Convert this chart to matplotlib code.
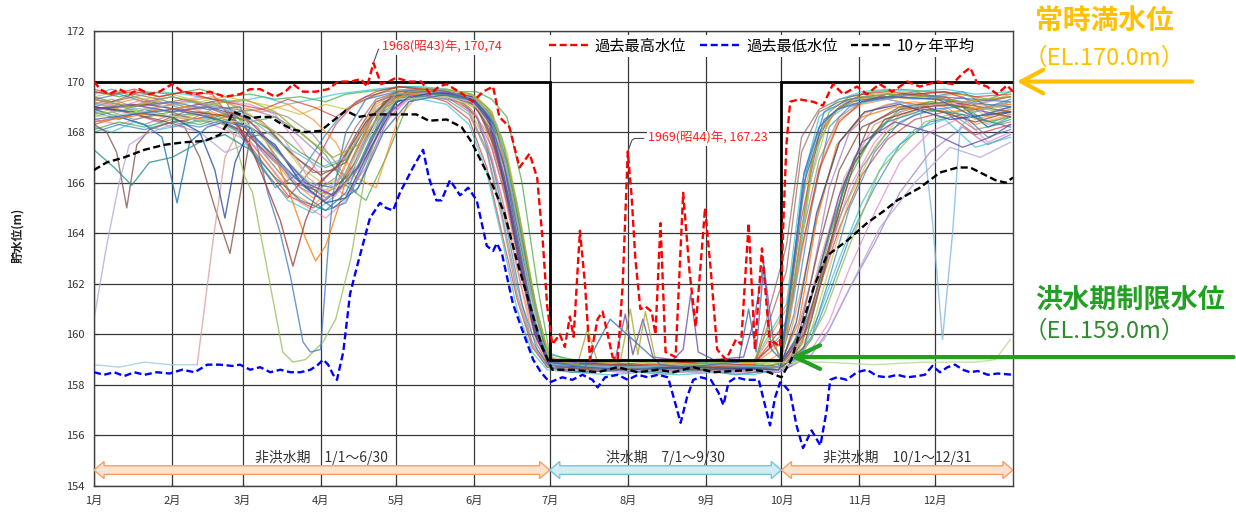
import matplotlib
matplotlib.use('Agg')
import matplotlib.pyplot as plt
from matplotlib.patches import Polygon
from matplotlib.lines import Line2D

plt.rcParams['font.family'] = ['Noto Sans CJK JP', 'DejaVu Sans']

# ---------------- data ----------------
month_days = [0, 31, 59, 90, 120, 151, 181, 212, 243, 273, 304, 334]
month_labels = ['1月', '2月', '3月', '4月', '5月', '6月', '7月', '8月', '9月', '10月', '11月', '12月']
y_ticks = [154, 156, 158, 160, 162, 164, 166, 168, 170, 172]

# operating rule (常時満水位 / 洪水期制限水位)
rule_days = [0, 181, 181, 273, 273, 365]
rule_levels = [170.0, 170.0, 159.0, 159.0, 170.0, 170.0]

# periods
period_starts = [0, 181, 273]
period_ends = [181, 273, 365]
period_labels = ['非洪水期　1/1～6/30', '洪水期　7/1～9/30', '非洪水期　10/1～12/31']

# 過去最高水位
max_days = [0, 2.4, 6, 10, 14, 18, 22, 26, 31, 35, 40, 46, 52, 58, 62, 66, 72, 76, 79, 83, 88, 93, 97, 102, 106,
            108.5, 111, 114, 117, 120, 125, 130, 133.5, 137, 140, 146.5, 150.5, 154.5, 158.5, 161, 165, 169, 173,
            176, 178.3, 180, 182, 185, 187, 189, 190.5, 193, 195, 197, 200, 202, 204, 206, 208, 210, 212, 213.5,
            215, 217, 219, 221.5, 223, 225, 227, 231, 234, 236.5, 239, 242.7, 245, 247.5, 251, 255, 257, 260,
            262.5, 265.3, 268.5, 270, 272.5, 273.7, 275, 276.5, 280, 285.6, 289.5, 293.5, 297.5, 303, 307, 312,
            317, 323, 328, 335, 341, 344.7, 348, 350.7, 354.7, 358.7, 362.6, 365]
max_levels = [170.0, 169.7, 169.5, 169.7, 169.5, 169.7, 169.5, 169.6, 169.9, 169.6, 169.5, 169.6, 169.4, 169.5,
              169.7, 169.7, 169.4, 169.6, 169.9, 169.6, 169.6, 169.7, 170.0, 170.0, 170.1, 169.8, 170.74, 169.9,
              170.0, 170.15, 170.0, 170.0, 169.5, 169.8, 169.9, 169.5, 169.2, 169.6, 169.8, 168.6, 168.2, 166.6,
              167.15, 166.2, 163.6, 161.1, 159.6, 160.0, 159.5, 160.7, 159.9, 164.1, 162.0, 159.0, 160.6, 160.9,
              160.0, 159.1, 159.0, 162.0, 167.23, 165.5, 163.0, 161.0, 161.1, 160.9, 160.0, 164.4, 159.3, 159.1,
              165.6, 162.5, 160.3, 165.0, 162.5, 159.4, 159.0, 159.8, 159.6, 164.4, 159.4, 163.4, 159.5, 159.7,
              159.5, 164.2, 167.5, 169.2, 169.3, 169.2, 169.05, 169.9, 169.5, 169.8, 169.5, 169.9, 169.6, 170.0,
              169.8, 170.0, 169.9, 170.3, 170.55, 169.95, 169.8, 169.5, 169.85, 169.6]

# 過去最低水位
min_days = [0, 4, 8, 12, 16, 20, 25, 30, 35, 40, 45, 50, 55, 58, 62, 66, 70, 74, 78, 82, 86, 89, 91, 93, 95, 96.5,
            99, 101.7, 104.5, 109.6, 113.6, 116, 118.8, 121.5, 126.7, 130.7, 133, 136, 138, 141.4, 145.4, 148.6,
            152, 156, 158.5, 160, 162, 166.4, 170, 174.4, 177.5, 181, 186, 190, 194, 198, 200, 203, 208, 212, 216,
            220, 224, 228, 230.5, 233, 235.5, 238, 241, 245, 248, 250, 252, 255, 259, 264, 266, 268.5, 270.5,
            272.5, 274, 276.5, 279, 281.6, 285, 288.5, 291, 292.4, 295, 299, 303, 307, 311, 315, 319, 323, 327,
            330, 333, 336, 339, 342, 345, 348, 351, 355, 359, 365]
min_levels = [158.5, 158.4, 158.5, 158.35, 158.5, 158.4, 158.5, 158.45, 158.6, 158.5, 158.8, 158.8, 158.75,
              158.8, 158.6, 158.7, 158.5, 158.6, 158.5, 158.5, 158.6, 158.8, 159.0, 158.8, 158.4, 158.2, 159.3,
              161.6, 162.7, 164.6, 165.2, 165.0, 164.9, 165.6, 166.6, 167.3, 166.2, 165.3, 165.3, 166.1, 165.5,
              165.8, 165.3, 163.5, 163.3, 163.6, 163.2, 161.2, 160.2, 159.0, 158.5, 158.1, 158.3, 158.2, 158.4,
              158.2, 157.9, 158.3, 158.4, 158.2, 158.4, 158.3, 158.4, 158.3, 157.4, 156.5, 157.5, 158.2, 158.3,
              158.2, 157.7, 157.2, 158.1, 158.3, 158.2, 158.2, 157.4, 156.4, 157.5, 158.1, 158.0, 157.7, 156.4,
              155.5, 156.2, 155.6, 157.0, 158.2, 158.3, 158.2, 158.5, 158.6, 158.35, 158.3, 158.4, 158.3, 158.35,
              158.4, 158.75, 158.5, 158.7, 158.8, 158.6, 158.5, 158.55, 158.4, 158.45, 158.4]

# 10ヶ年平均
avg_days = [0, 5, 12, 20, 28, 36, 44, 50, 52.8, 55.3, 58, 62, 66, 70, 74, 79, 84, 90, 95, 100, 105, 111, 121, 128,
            133, 140, 146, 150, 153, 157, 160, 163, 168, 173, 178, 182, 190, 200, 208, 216, 224, 230, 238, 246,
            254, 262, 268, 273, 277, 281, 286, 291, 299, 307, 314, 319, 328, 336, 343, 348, 352, 358, 362, 365]
avg_levels = [166.5, 166.8, 167.0, 167.3, 167.5, 167.6, 167.65, 167.9, 168.3, 168.8, 168.7, 168.55, 168.6, 168.6,
              168.35, 168.1, 168.0, 168.05, 168.45, 168.85, 168.6, 168.7, 168.7, 168.7, 168.45, 168.5, 168.2,
              167.6, 167.0, 166.2, 165.5, 164.8, 162.9, 161.2, 159.5, 158.6, 158.6, 158.5, 158.7, 158.5, 158.6,
              158.5, 158.7, 158.5, 158.55, 158.6, 158.5, 158.3, 159.0, 160.3, 161.9, 163.1, 163.7, 164.4, 164.9,
              165.3, 165.8, 166.4, 166.6, 166.6, 166.4, 166.1, 166.0, 166.2]

# yearly records
grid_a = [0, 10, 20, 31, 42, 52, 62, 72, 82, 92, 100, 108, 116, 125, 135, 145, 152, 158, 164, 170, 176, 181,
          195, 210, 225, 240, 255, 272, 278, 285, 292, 300, 310, 320, 332, 345, 355, 364]
grid_b = [0, 7, 16, 26, 36, 47, 57, 67, 77, 87, 96, 104, 112, 121, 130, 140, 149, 156, 162, 168, 174, 180,
          190, 205, 218, 232, 248, 262, 275, 281, 288, 296, 305, 315, 326, 338, 350, 364]

b01 = [169.3, 169.5, 169.2, 169.4, 169.1, 169.3, 167.4, 165.8, 166.4, 167.9, 168.9, 169.4, 169.6, 169.7, 169.6, 169.5, 169.2, 168.4, 166.5, 163.2, 160.2, 158.9, 158.7, 158.8, 158.6, 158.8, 158.7, 158.8, 160.8, 165.0, 168.2, 169.0, 169.3, 169.5, 169.4, 169.6, 169.0, 169.3]
b02 = [168.8, 169.0, 168.7, 168.9, 168.6, 168.8, 168.4, 167.5, 166.2, 165.4, 165.8, 167.6, 169.0, 169.5, 169.6, 169.4, 168.9, 167.6, 165.4, 162.6, 160.0, 158.8, 158.6, 158.7, 158.6, 158.5, 158.7, 158.6, 159.4, 161.8, 165.0, 167.6, 168.7, 169.1, 169.2, 169.0, 168.3, 168.7]
b03 = [169.6, 169.4, 169.6, 169.5, 169.7, 169.4, 169.5, 169.3, 169.4, 169.2, 169.5, 169.6, 169.7, 169.8, 169.7, 169.6, 169.6, 169.3, 168.6, 166.0, 162.0, 159.2, 158.9, 159.0, 158.8, 158.9, 158.8, 158.9, 162.0, 166.8, 168.8, 169.4, 169.6, 169.7, 169.6, 169.5, 169.3, 169.6]
b04 = [168.3, 168.5, 168.7, 168.4, 168.8, 168.6, 168.1, 166.8, 165.5, 165.0, 165.6, 167.2, 168.8, 169.4, 169.5, 169.2, 168.5, 166.6, 164.0, 161.4, 159.5, 158.7, 158.5, 158.6, 158.5, 158.7, 158.5, 158.6, 158.9, 159.6, 161.8, 164.2, 166.3, 167.7, 168.5, 168.8, 167.9, 168.3]
b05 = [169.0, 168.8, 169.2, 168.9, 169.1, 168.7, 168.9, 168.6, 167.8, 166.9, 166.2, 167.0, 168.6, 169.4, 169.6, 169.5, 169.1, 168.2, 166.4, 163.6, 160.6, 159.0, 158.7, 158.8, 158.7, 158.6, 158.8, 158.7, 159.6, 162.2, 165.8, 168.0, 168.9, 169.2, 169.0, 169.4, 168.7, 169.0]
b06 = [169.4, 169.2, 169.5, 169.3, 169.0, 169.2, 168.6, 167.2, 166.0, 165.8, 166.6, 168.2, 169.3, 169.6, 169.7, 169.6, 169.4, 168.9, 167.5, 164.5, 161.2, 159.1, 158.8, 158.9, 158.7, 158.9, 158.8, 158.7, 163.5, 167.8, 168.9, 169.3, 169.5, 169.4, 169.6, 169.3, 169.1, 169.4]
b07 = [168.5, 168.3, 168.6, 168.2, 168.5, 168.1, 167.6, 166.4, 165.2, 164.6, 165.3, 166.9, 168.5, 169.3, 169.4, 169.3, 168.7, 167.0, 164.6, 161.8, 159.6, 158.7, 158.5, 158.6, 158.4, 158.6, 158.5, 158.5, 158.8, 159.4, 160.5, 162.6, 164.8, 166.8, 168.0, 168.6, 167.6, 168.0]
b08 = [169.1, 169.3, 169.0, 169.2, 168.9, 169.1, 168.8, 168.9, 168.6, 167.9, 166.8, 165.6, 167.5, 169.4, 169.6, 169.4, 168.8, 167.3, 164.8, 161.9, 159.7, 158.8, 158.7, 158.6, 158.8, 158.6, 158.7, 158.8, 160.2, 163.8, 166.9, 168.6, 169.2, 169.4, 169.5, 169.3, 168.9, 169.2]
b09 = [168.7, 169.0, 168.8, 169.1, 168.9, 169.2, 168.7, 167.9, 166.6, 165.9, 166.3, 167.8, 169.1, 169.6, 169.5, 169.3, 168.9, 167.9, 165.9, 163.0, 160.3, 158.9, 158.6, 158.7, 158.5, 158.7, 158.6, 158.7, 159.1, 160.2, 162.6, 165.4, 167.4, 168.6, 169.1, 169.2, 168.6, 168.9]
b10 = [169.5, 169.7, 169.4, 169.6, 169.5, 169.3, 169.2, 169.4, 169.1, 169.3, 169.5, 169.6, 169.7, 169.8, 169.8, 169.7, 169.5, 169.0, 167.8, 165.2, 161.8, 159.3, 158.9, 158.9, 159.0, 158.8, 158.9, 158.9, 161.2, 165.9, 168.6, 169.3, 169.6, 169.7, 169.6, 169.7, 169.5, 169.6]
b11 = [168.0, 168.3, 168.1, 168.4, 168.2, 168.5, 168.2, 167.4, 166.1, 165.4, 165.9, 167.6, 169.0, 169.5, 169.5, 169.3, 168.6, 166.8, 164.2, 161.2, 159.4, 158.7, 158.5, 158.6, 158.5, 158.6, 158.4, 158.6, 158.9, 159.8, 161.6, 163.8, 165.8, 167.5, 168.4, 168.7, 167.8, 168.1]
b12 = [169.2, 168.9, 169.1, 168.8, 169.0, 168.7, 168.3, 167.0, 165.7, 165.1, 165.9, 167.7, 169.1, 169.6, 169.5, 169.4, 169.0, 168.0, 166.0, 163.1, 160.4, 158.9, 158.7, 158.8, 158.6, 158.8, 158.7, 158.8, 159.8, 163.2, 166.6, 168.5, 169.1, 169.3, 169.1, 169.3, 168.5, 168.9]
b13 = [168.9, 169.1, 168.6, 168.8, 168.4, 168.7, 168.4, 168.6, 168.0, 167.1, 165.9, 165.3, 167.0, 169.2, 169.6, 169.5, 169.3, 168.6, 166.9, 163.9, 160.8, 159.0, 158.8, 158.7, 158.8, 158.7, 158.9, 158.7, 159.3, 161.0, 163.8, 166.4, 168.0, 168.9, 169.2, 169.0, 168.2, 168.6]
b14 = [169.6, 169.5, 169.7, 169.4, 169.6, 169.5, 168.2, 166.5, 165.4, 166.6, 168.3, 169.2, 169.6, 169.8, 169.7, 169.6, 169.3, 168.3, 166.2, 163.4, 160.5, 159.0, 158.8, 158.8, 158.7, 158.9, 158.8, 158.8, 160.5, 164.6, 167.9, 169.0, 169.5, 169.6, 169.5, 169.6, 169.4, 169.5]
b15 = [168.4, 168.6, 168.3, 168.7, 168.5, 168.3, 167.8, 166.9, 165.8, 165.3, 166.0, 167.8, 169.1, 169.5, 169.4, 169.2, 168.6, 167.4, 165.2, 162.3, 159.8, 158.8, 158.6, 158.5, 158.6, 158.5, 158.6, 158.5, 158.8, 159.2, 160.2, 161.8, 163.6, 165.6, 167.2, 168.2, 167.5, 167.9]
b16 = [169.0, 169.2, 169.4, 169.1, 169.3, 169.0, 168.9, 168.4, 167.3, 166.4, 166.5, 167.9, 169.2, 169.6, 169.6, 169.5, 169.2, 168.5, 166.8, 163.8, 160.9, 159.1, 158.8, 158.7, 158.9, 158.7, 158.8, 158.7, 162.5, 167.2, 168.8, 169.2, 169.4, 169.3, 169.5, 169.4, 168.8, 169.2]
b17 = [169.2, 169.0, 169.3, 169.1, 169.4, 169.2, 169.1, 168.7, 167.4, 166.0, 165.5, 166.6, 168.4, 169.4, 169.5, 169.4, 169.0, 167.8, 165.6, 162.8, 160.1, 158.9, 158.7, 158.6, 158.7, 158.6, 158.7, 158.6, 159.2, 160.8, 163.2, 165.8, 167.6, 168.7, 169.0, 169.1, 168.3, 168.7]
b18 = [168.6, 168.8, 168.5, 168.7, 168.4, 168.9, 168.6, 167.8, 166.4, 165.6, 166.2, 167.9, 169.2, 169.5, 169.4, 169.3, 168.7, 167.2, 164.6, 161.6, 159.6, 158.7, 158.5, 158.6, 158.6, 158.5, 158.6, 158.5, 159.0, 160.0, 162.0, 164.6, 166.6, 168.0, 168.7, 168.9, 168.1, 168.4]
b19 = [169.4, 169.6, 169.3, 169.5, 169.2, 169.4, 169.2, 169.0, 168.7, 169.1, 168.9, 169.3, 169.6, 169.7, 169.7, 169.6, 169.4, 168.8, 167.2, 164.2, 160.9, 159.1, 158.9, 158.8, 158.9, 158.8, 158.9, 158.8, 161.8, 166.2, 168.6, 169.3, 169.5, 169.6, 169.4, 169.5, 169.2, 169.5]
b20 = [168.2, 168.0, 168.4, 168.1, 168.3, 168.6, 168.0, 166.6, 165.3, 164.8, 165.5, 167.3, 168.9, 169.4, 169.3, 169.1, 168.3, 166.4, 163.8, 161.0, 159.3, 158.6, 158.5, 158.4, 158.5, 158.4, 158.5, 158.4, 158.7, 159.3, 160.8, 163.0, 165.2, 167.0, 168.1, 168.5, 167.4, 167.8]
b21 = [168.8, 168.5, 168.9, 168.6, 168.8, 168.4, 167.9, 167.0, 165.6, 164.9, 165.2, 166.8, 168.7, 169.4, 169.5, 169.4, 169.0, 167.8, 165.6, 162.6, 160.0, 158.8, 158.6, 158.7, 158.6, 158.7, 158.6, 158.7, 159.0, 159.9, 162.2, 165.0, 167.2, 168.4, 168.9, 169.0, 168.2, 168.5]
b22 = [169.3, 169.1, 169.3, 169.0, 169.2, 169.4, 169.0, 168.8, 169.1, 168.5, 167.6, 166.2, 165.8, 168.6, 169.6, 169.5, 169.3, 168.7, 167.0, 164.0, 160.7, 159.0, 158.8, 158.7, 158.8, 158.8, 158.7, 158.8, 161.0, 165.2, 168.0, 169.0, 169.3, 169.4, 169.3, 169.4, 168.9, 169.1]
b23 = [168.1, 168.4, 168.2, 168.5, 168.3, 168.6, 168.5, 168.0, 167.2, 166.6, 166.9, 168.2, 169.2, 169.6, 169.5, 169.4, 169.1, 168.3, 166.3, 163.3, 160.4, 158.9, 158.7, 158.6, 158.7, 158.6, 158.7, 158.6, 159.1, 160.6, 163.4, 166.2, 168.0, 168.8, 169.1, 169.0, 168.4, 168.6]
b24 = [169.7, 169.5, 169.6, 169.4, 169.6, 169.3, 169.1, 168.9, 169.3, 169.0, 168.6, 169.1, 169.5, 169.8, 169.7, 169.6, 169.4, 168.6, 166.8, 163.8, 160.6, 159.0, 158.8, 158.9, 158.8, 158.9, 158.8, 158.9, 160.0, 163.4, 166.5, 168.4, 169.2, 169.5, 169.5, 169.6, 169.2, 169.4]

s01_days = [0, 5, 9, 13, 17, 22, 31, 45, 60, 72, 85, 95, 105, 115, 125, 140, 152, 160, 167, 173, 179, 184, 210, 240, 272, 280, 288, 296, 305, 320, 340, 364]
s01_levels = [168.3, 168.0, 167.2, 165.0, 167.5, 168.1, 168.4, 168.6, 168.0, 166.8, 165.8, 165.5, 167.0, 169.2, 169.6, 169.5, 169.0, 167.2, 164.2, 161.5, 159.5, 158.7, 158.6, 158.7, 158.7, 160.0, 163.5, 166.5, 168.2, 168.9, 169.1, 168.6]
s02_days = [0, 10, 20, 27, 33, 38, 45, 55, 65, 75, 85, 95, 105, 115, 125, 140, 150, 157, 164, 170, 176, 181, 210, 240, 272, 276, 282, 290, 300, 315, 335, 364]
s02_levels = [168.9, 168.6, 168.3, 167.8, 165.2, 167.6, 168.2, 168.5, 168.0, 167.0, 166.0, 165.8, 166.6, 168.8, 169.5, 169.6, 169.4, 168.6, 166.2, 163.0, 160.0, 158.8, 158.7, 158.6, 158.7, 161.5, 166.0, 168.5, 169.2, 169.4, 169.3, 169.0]
s03_days = [0, 12, 25, 36, 42, 48, 54, 58, 62, 70, 80, 90, 100, 110, 120, 135, 150, 157, 164, 170, 176, 181, 210, 240, 272, 282, 290, 298, 308, 320, 340, 364]
s03_levels = [169.0, 168.8, 168.5, 168.2, 167.0, 165.0, 163.2, 165.5, 167.8, 168.0, 167.0, 166.3, 166.8, 168.6, 169.5, 169.6, 169.3, 168.2, 165.5, 162.5, 159.8, 158.8, 158.6, 158.8, 158.6, 159.5, 162.5, 166.0, 168.3, 169.0, 169.2, 168.8]
s04_days = [0, 10, 20, 30, 41]
s04_levels = [158.8, 158.7, 158.9, 158.8, 158.8]
s05_days = [41, 47, 52, 58, 65, 75, 85, 95, 105, 115, 125, 140, 152, 160, 167, 173, 179, 184, 210, 240, 272, 280, 288, 298, 310, 325, 345, 364]
s05_levels = [158.8, 163.5, 167.0, 168.2, 168.5, 167.8, 166.2, 165.4, 166.5, 168.6, 169.4, 169.5, 169.2, 168.0, 165.2, 162.0, 159.6, 158.8, 158.7, 158.6, 158.7, 159.6, 162.8, 166.2, 168.3, 169.0, 169.2, 168.9]
s06_days = [0, 15, 31, 45, 55, 60, 63, 68, 75, 79, 84, 91, 96, 102, 108, 114, 122, 135, 150, 158, 165, 171, 177, 182, 210, 240, 272, 280, 290, 300, 312, 330, 350, 364]
s06_levels = [168.7, 168.9, 168.6, 168.8, 168.0, 166.2, 165.6, 163.0, 159.3, 158.9, 159.0, 159.7, 160.6, 163.0, 166.5, 168.5, 169.4, 169.6, 169.5, 168.8, 166.5, 163.5, 160.3, 158.8, 158.6, 158.7, 158.6, 159.0, 160.8, 163.5, 166.5, 168.4, 169.0, 168.7]
s07_days = [0, 15, 31, 45, 58, 64, 69, 74, 78, 83, 86, 90, 93, 95, 100, 108, 120, 135, 150, 158, 165, 171, 177, 182, 210, 240, 272, 277, 283, 290, 300, 315, 335, 364]
s07_levels = [169.3, 169.0, 169.2, 168.9, 169.0, 167.8, 165.6, 164.0, 162.3, 159.7, 159.3, 159.4, 163.4, 165.6, 168.0, 169.3, 169.6, 169.7, 169.4, 168.5, 165.8, 162.5, 159.8, 158.7, 158.8, 158.6, 158.7, 162.0, 166.5, 168.8, 169.3, 169.5, 169.4, 169.2]
s08_days = [0, 20, 40, 55, 65, 72, 78, 84, 88, 92, 97, 102, 110, 120, 135, 150, 158, 164, 170, 176, 181, 210, 240, 272, 280, 287, 295, 305, 318, 340, 364]
s08_levels = [168.4, 168.7, 168.5, 168.8, 168.2, 167.0, 165.5, 163.8, 162.9, 163.5, 165.0, 166.8, 168.5, 169.4, 169.6, 169.4, 168.7, 166.5, 163.5, 160.5, 158.9, 158.7, 158.8, 158.7, 160.5, 164.5, 167.5, 168.6, 169.0, 168.8, 169.1]
s09_days = [0, 20, 40, 55, 62, 68, 74, 79, 84, 90, 98, 108, 118, 130, 145, 155, 162, 168, 174, 180, 210, 240, 272, 282, 292, 302, 314, 330, 350, 364]
s09_levels = [168.9, 169.1, 168.8, 168.6, 167.5, 166.0, 164.5, 162.7, 164.5, 166.0, 166.8, 168.4, 169.4, 169.6, 169.5, 168.9, 167.0, 164.0, 160.8, 158.9, 158.8, 158.6, 158.7, 160.0, 163.5, 166.8, 168.5, 169.0, 168.4, 168.8]
s10_days = [0, 5, 10, 14, 20, 31, 42, 52, 62, 72, 82, 92, 100, 110, 120, 135, 150, 158, 164, 170, 176, 181, 210, 240, 272, 280, 290, 300, 312, 326, 340, 352, 364]
s10_levels = [160.6, 163.5, 166.0, 167.5, 167.9, 168.3, 168.0, 167.2, 167.6, 166.8, 166.0, 165.7, 166.4, 168.2, 169.3, 169.5, 169.2, 168.3, 166.0, 163.0, 160.3, 158.8, 158.6, 158.5, 158.6, 158.9, 159.8, 161.8, 164.2, 166.0, 167.4, 167.0, 167.6]
s11_days = [0, 8, 15, 22, 31, 42, 52, 62, 72, 82, 92, 100, 110, 120, 135, 150, 158, 164, 170, 176, 181, 210, 240, 272, 282, 292, 302, 315, 330, 345, 364]
s11_levels = [167.3, 166.6, 165.9, 166.8, 167.0, 167.6, 167.9, 167.3, 166.2, 165.3, 164.9, 165.6, 167.8, 169.2, 169.5, 169.3, 168.6, 166.8, 163.8, 160.6, 158.9, 158.7, 158.8, 158.7, 160.4, 164.0, 167.0, 168.4, 168.9, 168.7, 168.2]
s12_days = [0, 15, 31, 42, 48, 52, 56, 62, 72, 82, 92, 100, 110, 120, 135, 150, 157, 163, 169, 175, 181, 210, 240, 272, 279, 287, 296, 306, 320, 340, 364]
s12_levels = [169.0, 168.8, 168.6, 168.0, 166.5, 164.6, 166.8, 168.2, 167.5, 166.0, 165.2, 165.4, 167.4, 169.2, 169.6, 169.4, 168.5, 166.0, 162.8, 160.0, 158.8, 158.6, 158.7, 158.6, 160.5, 164.8, 167.6, 168.8, 169.1, 168.5, 168.8]
s13_days = [0, 20, 40, 60, 75, 90, 100, 110, 120, 140, 152, 160, 166, 172, 178, 182, 210, 240, 272, 278, 284, 290, 300, 315, 328, 333, 337, 341, 344, 350, 364]
s13_levels = [169.1, 168.9, 169.2, 168.7, 167.5, 166.6, 167.0, 168.5, 169.5, 169.6, 169.3, 168.3, 165.6, 162.4, 159.7, 158.8, 158.7, 158.8, 158.7, 161.5, 165.8, 168.4, 169.1, 169.3, 169.0, 164.5, 159.8, 164.0, 168.2, 168.8, 169.2]
s14_days = [0, 20, 40, 60, 75, 90, 100, 110, 120, 140, 152, 160, 166, 172, 178, 182, 210, 240, 272, 290, 310, 330, 350, 358, 364]
s14_levels = [168.6, 168.8, 168.5, 168.4, 167.0, 165.6, 166.0, 168.0, 169.3, 169.4, 169.0, 167.8, 165.0, 162.0, 159.6, 158.9, 158.9, 158.8, 158.9, 158.9, 158.8, 158.9, 158.9, 159.0, 159.8]
s15_days = [0, 15, 31, 45, 60, 72, 84, 95, 105, 115, 125, 140, 150, 157, 163, 169, 175, 181, 200, 207, 211, 214, 218, 222, 230, 234, 237, 240, 246, 258, 262, 266, 270, 273, 280, 288, 296, 305, 318, 332, 345, 356, 364]
s15_levels = [168.9, 169.1, 168.8, 169.0, 168.6, 167.4, 166.0, 165.5, 166.6, 168.6, 169.4, 169.6, 169.3, 168.4, 166.2, 163.0, 160.2, 158.9, 158.9, 159.0, 160.8, 159.2, 160.6, 159.1, 159.0, 159.4, 161.6, 159.3, 159.0, 159.1, 160.5, 162.8, 159.6, 159.0, 159.8, 162.5, 165.5, 167.6, 168.4, 168.0, 167.4, 167.8, 168.3]
s16_days = [0, 15, 31, 45, 60, 72, 84, 95, 105, 115, 125, 140, 150, 157, 163, 169, 175, 181, 192, 196, 200, 209, 213, 216, 219, 223, 235, 250, 262, 268, 273, 279, 286, 294, 303, 314, 330, 345, 364]
s16_levels = [169.3, 169.0, 169.4, 169.1, 169.3, 168.8, 167.8, 167.0, 167.5, 168.9, 169.6, 169.7, 169.5, 168.9, 167.4, 164.6, 161.3, 159.0, 158.8, 160.2, 158.9, 158.9, 161.0, 159.2, 160.9, 159.0, 158.8, 158.9, 158.9, 160.3, 158.9, 162.8, 167.2, 168.8, 169.3, 169.5, 169.4, 169.2, 169.4]
s17_days = [0, 15, 31, 45, 60, 72, 84, 95, 105, 115, 125, 140, 150, 157, 163, 169, 175, 181, 195, 205, 225, 235, 245, 256, 260, 263, 266, 269, 273, 277, 282, 288, 295, 305, 318, 335, 350, 364]
s17_levels = [168.5, 168.7, 168.9, 168.6, 168.2, 167.0, 165.8, 165.0, 165.8, 168.0, 169.2, 169.5, 169.3, 168.6, 166.6, 163.4, 160.4, 158.9, 158.7, 160.6, 158.8, 158.7, 158.8, 158.9, 161.0, 159.3, 162.7, 159.4, 159.0, 162.0, 166.4, 168.2, 168.9, 169.2, 169.4, 169.3, 168.6, 169.0]

bulk_series = [(grid_a, b01), (grid_b, b02), (grid_a, b03), (grid_b, b04), (grid_a, b05), (grid_b, b06),
               (grid_a, b07), (grid_b, b08), (grid_a, b09), (grid_b, b10), (grid_a, b11), (grid_b, b12),
               (grid_a, b13), (grid_b, b14), (grid_a, b15), (grid_b, b16), (grid_a, b17), (grid_b, b18),
               (grid_a, b19), (grid_b, b20), (grid_a, b21), (grid_b, b22), (grid_a, b23), (grid_b, b24)]
special_series = [(s01_days, s01_levels), (s02_days, s02_levels), (s03_days, s03_levels),
                  (s04_days, s04_levels), (s05_days, s05_levels), (s06_days, s06_levels),
                  (s07_days, s07_levels), (s08_days, s08_levels), (s09_days, s09_levels),
                  (s10_days, s10_levels), (s11_days, s11_levels), (s12_days, s12_levels),
                  (s13_days, s13_levels), (s14_days, s14_levels), (s15_days, s15_levels),
                  (s16_days, s16_levels), (s17_days, s17_levels)]

# ---------------- style ----------------
tab = ['#1f77b4', '#ff7f0e', '#2ca02c', '#d62728', '#9467bd', '#8c564b', '#e377c2', '#7f7f7f',
       '#bcbd22', '#17becf']
special_colors = ['#8c564b', '#1f77b4', '#8c564b', '#9ecae1', '#d9a0a0', '#98c060', '#4a7fc0',
                  '#ff7f0e', '#a0403c', '#b8a8d8', '#2f8f8f', '#2c4f9f', '#7fb8e0', '#b8d890',
                  '#7050a8', '#a8a830', '#3a70b8']

fig = plt.figure(figsize=(12.36, 5.17), dpi=100)
ax = fig.add_axes([94 / 1236, 1 - 486 / 517, 919 / 1236, 455 / 517])

for i, (d, v) in enumerate(bulk_series):
    ax.plot(d, v, color=tab[i % 10], lw=0.95, alpha=0.65, zorder=2)
for (d, v), c in zip(special_series, special_colors):
    ax.plot(d, v, color=c, lw=1.0, alpha=0.8, zorder=2)

ax.plot(rule_days, rule_levels, color='black', lw=2.0, zorder=3, solid_joinstyle='miter')

dash = (0, (3, 1.5))
ax.plot(min_days, min_levels, color='#0000ff', lw=1.7, ls=dash, zorder=4)
ax.plot(avg_days, avg_levels, color='black', lw=1.7, ls=dash, zorder=4)
ax.plot(max_days, max_levels, color='#ff0000', lw=1.7, ls=dash, zorder=5)

ax.set_xlim(0, 365)
ax.set_ylim(154, 172)
ax.set_xticks(month_days)
ax.set_xticklabels(month_labels)
ax.set_yticks(y_ticks)
ax.grid(True, color='#383838', lw=0.9)
ax.set_axisbelow(True)
ax.tick_params(direction='in', length=3, labelsize=8, colors='#333333', pad=7)
for sp in ax.spines.values():
    sp.set_color('#404040')
    sp.set_linewidth(1.0)

fig.text(18 / 1236, 1 - 235 / 517, '貯水位(m)', rotation=90, fontsize=8.5, fontweight='bold',
         ha='center', va='center', color='#222222')

# legend
handles = [Line2D([], [], color='#ff0000', lw=1.7, ls=dash),
           Line2D([], [], color='#0000ff', lw=1.7, ls=dash),
           Line2D([], [], color='black', lw=1.7, ls=dash)]
leg = ax.legend(handles, ['過去最高水位', '過去最低水位', '10ヶ年平均'], loc='center',
                bbox_to_anchor=(0.727, 0.967), ncol=3, fontsize=11, handlelength=2.6,
                columnspacing=0.9, handletextpad=0.4, borderpad=0.15, fancybox=False,
                facecolor='white', edgecolor='white', framealpha=1)
leg.get_frame().set_linewidth(0)
leg.set_zorder(10)

# record annotations
i_hi = max_levels.index(max(max_levels))
ax.annotate('1968(昭43)年, 170,74', xy=(max_days[i_hi], max_levels[i_hi]), xytext=(114.5, 171.35),
            fontsize=9, color='#ff2020', ha='left', va='center', zorder=11,
            bbox=dict(boxstyle='square,pad=0.1', fc='white', ec='none'),
            arrowprops=dict(arrowstyle='-', color='#505050', lw=0.8,
                            connectionstyle='angle,angleA=0,angleB=70,rad=3', shrinkB=1))
i_fl = max_levels.index(167.23)
ax.annotate('1969(昭44)年, 167.23', xy=(max_days[i_fl], max_levels[i_fl]), xytext=(220, 167.75),
            fontsize=9, color='#ff2020', ha='left', va='center', zorder=11,
            bbox=dict(boxstyle='square,pad=0.1', fc='white', ec='none'),
            arrowprops=dict(arrowstyle='-', color='#505050', lw=0.8,
                            connectionstyle='angle,angleA=0,angleB=70,rad=3', shrinkB=1))

# period arrows
yc, hs, hh, hl = 154.63, 0.17, 0.34, 4.0
arrow_face = ['#fde3cf', '#d3edf5', '#fde3cf']
arrow_edge = ['#f5a063', '#78c3da', '#f5a063']
for x0, x1, lab, fc, ec in zip(period_starts, period_ends, period_labels, arrow_face, arrow_edge):
    verts = [(x0, yc), (x0 + hl, yc + hh), (x0 + hl, yc + hs), (x1 - hl, yc + hs), (x1 - hl, yc + hh),
             (x1, yc), (x1 - hl, yc - hh), (x1 - hl, yc - hs), (x0 + hl, yc - hs), (x0 + hl, yc - hh)]
    ax.add_patch(Polygon(verts, closed=True, fc=fc, ec=ec, lw=1.0, zorder=6))
    ax.text((x0 + x1) / 2, 155.12, lab, ha='center', va='center', fontsize=10, color='#333333', zorder=7)

# right-hand labels
yax = ax.get_yaxis_transform()
fig.text(1035 / 1236, 1 - 21 / 517, '常時満水位', fontsize=20, fontweight='bold', color='#ffc000',
         ha='left', va='center')
fig.text(1024 / 1236, 1 - 58 / 517, '（EL.170.0m）', fontsize=17, color='#ffc000', ha='left', va='center')
ax.annotate('', xy=(1.004, rule_levels[0]), xycoords=yax, xytext=(1.195, rule_levels[0]), textcoords=yax,
            arrowprops=dict(arrowstyle='->,head_length=1.6,head_width=0.85', lw=3, color='#ffc000',
                            shrinkA=0, shrinkB=0), annotation_clip=False)

fig.text(1035 / 1236, 1 - 300 / 517, '洪水期制限水位', fontsize=19.5, fontweight='bold', color='#22a022',
         ha='left', va='center')
fig.text(1024 / 1236, 1 - 331 / 517, '（EL.159.0m）', fontsize=17, color='#2e8b2e', ha='left', va='center')
ax.annotate('', xy=(276.5, 159.1), xycoords='data', xytext=(1.24, 159.1), textcoords=yax,
            arrowprops=dict(arrowstyle='->,head_length=1.8,head_width=0.85', lw=3, color='#22a022',
                            shrinkA=0, shrinkB=0), annotation_clip=False, zorder=12)

fig.savefig('out.png', dpi=100)
